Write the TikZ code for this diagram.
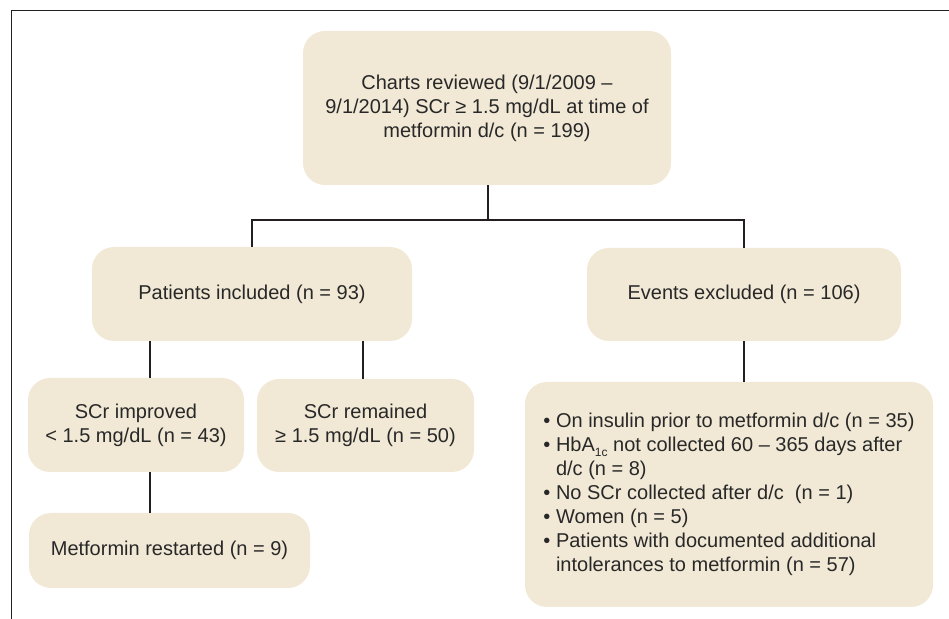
\documentclass[tikz,border=0pt]{standalone}
\usepackage{fontspec}
\setmainfont{Liberation Sans}
\usepackage{tikz}
\usetikzlibrary{arrows,positioning}
\definecolor{boxfill}{RGB}{241,233,214}
\definecolor{inkgray}{RGB}{35,31,32}
\definecolor{textgray}{RGB}{40,40,40}
\tikzset{
    %Define style for boxes
    flowbox/.style={
           rectangle,
           rounded corners=11pt,
           fill=boxfill,
           inner sep=0pt,
           font=\fontsize{10}{12}\selectfont,
           text=textgray,
           align=center},
    listbox/.style={
           flowbox,
           align=left},
    % Define connector style
    link/.style={
           draw=inkgray,
           line width=1pt},
    frameline/.style={
           draw=inkgray,
           line width=0.8pt}
}
\newcommand{\hangbul}{\hphantom{\textbullet\ }}
\newcommand{\lowsub}[1]{\raisebox{-0.45ex}{\fontsize{6}{6}\selectfont #1}}

\begin{document}
\begin{tikzpicture}[x=0.5pt,y=-0.5pt]
\useasboundingbox (0,0) rectangle (949,619);
 %frame
\draw[frameline] (949,10.5) -- (11.5,10.5) -- (11.5,619);
 %nodes
\node[flowbox, minimum width=184pt, minimum height=77pt] (charts) at (487,108)
  {Charts reviewed (9/1/2009 --\\ 9/1/2014) SCr ≥ 1.5 mg/dL at time of\\ metformin d/c (n = 199)};
\node[flowbox, minimum width=160pt, minimum height=47pt] (incl) at (252,294)
  {Patients included (n = 93)};
\node[flowbox, minimum width=157pt, minimum height=46.5pt] (excl) at (744,294.5)
  {Events excluded (n = 106)};
\node[flowbox, minimum width=108pt, minimum height=47pt] (impr) at (136,425)
  {SCr improved\\ < 1.5 mg/dL (n = 43)};
\node[flowbox, minimum width=108.5pt, minimum height=46.5pt] (remain) at (365.5,425.5)
  {SCr remained\\ ≥ 1.5 mg/dL (n = 50)};
\node[flowbox, minimum width=140.5pt, minimum height=37.5pt] (restart) at (169.5,550.5)
  {Metformin restarted (n = 9)};
\node[listbox, minimum width=204pt, minimum height=112.5pt] (reasons) at (729,494.5)
  {\textbullet\ On insulin prior to metformin d/c (n = 35)\\
   \textbullet\ HbA\lowsub{1c} not collected 60 -- 365 days after\\
   \hangbul d/c (n = 8)\\
   \textbullet\ No SCr collected after d/c \ (n = 1)\\
   \textbullet\ Women (n = 5)\\
   \textbullet\ Patients with documented additional\\
   \hangbul intolerances to metformin (n = 57)};
 %connectors
\coordinate (split) at (488,220);
\coordinate (leftcol) at (150,0);
\coordinate (midcol) at (363,0);
\draw[link] (charts.south -| split) -- (split);
\draw[link] (incl.north) |- (split) -| (excl.north);
\draw[link] (incl.south -| leftcol) -- (impr.north -| leftcol);
\draw[link] (incl.south -| midcol) -- (remain.north -| midcol);
\draw[link] (impr.south -| leftcol) -- (restart.north -| leftcol);
\draw[link] (excl.south) -- (reasons.north -| excl.south);
\end{tikzpicture}
\end{document}
